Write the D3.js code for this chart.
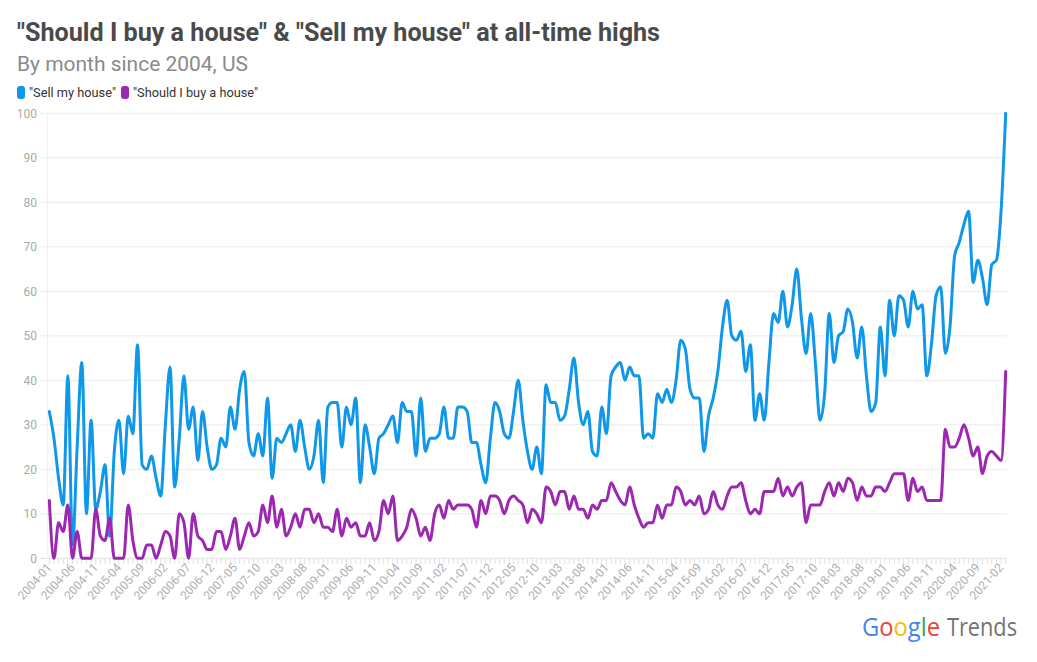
<!DOCTYPE html>
<html>
<head>
<meta charset="utf-8">
<script src="https://cdn.jsdelivr.net/npm/d3@7"></script>
<style>
  html, body { margin: 0; padding: 0; background: #fff; }
  svg { display: block; font-family: Roboto, "Noto Sans", sans-serif; }
</style>
</head>
<body>
<svg id="chart" width="1037" height="662"></svg>
<script>
// Monthly search interest, 2004-01 .. 2021-03
const sellMyHouse = [
  33, 27, 18, 12, 41, 3, 25, 44, 10, 31,
  11, 15, 21, 5, 24, 31, 19, 32, 28, 48,
  21, 20, 23, 18, 14, 30, 43, 16, 27, 41,
  29, 34, 22, 33, 25, 20, 21, 27, 25, 34,
  29, 38, 42, 26, 23, 28, 23, 36, 18, 27,
  26, 28, 30, 24, 31, 25, 20, 23, 31, 17,
  34, 35, 35, 25, 34, 30, 36, 17, 30, 25,
  19, 27, 28, 30, 32, 26, 35, 33, 33, 23,
  36, 24, 27, 27, 28, 34, 27, 27, 34, 34,
  33, 26, 26, 21, 17, 27, 35, 33, 28, 27,
  33, 40, 31, 24, 20, 25, 19, 39, 35, 35,
  31, 32, 38, 45, 35, 30, 33, 24, 23, 34,
  28, 41, 43, 44, 40, 43, 41, 41, 27, 28,
  27, 37, 35, 38, 35, 40, 49, 47, 38, 36,
  36, 24, 32, 36, 42, 52, 58, 50, 49, 51,
  42, 48, 31, 37, 31, 44, 55, 53, 60, 52,
  57, 65, 54, 46, 55, 44, 31, 37, 55, 44,
  50, 51, 56, 53, 45, 52, 41, 33, 35, 52,
  41, 58, 50, 59, 58, 52, 60, 56, 57, 41,
  48, 59, 61, 46, 52, 68, 71, 75, 78, 62,
  67, 63, 57, 66, 67, 78, 100
];

const shouldIBuy = [
  13, 0, 8, 6, 12, 0, 6, 0, 0, 0,
  11, 5, 4, 9, 0, 0, 0, 12, 4, 0,
  0, 3, 3, 0, 3, 6, 5, 0, 10, 8,
  0, 10, 5, 4, 2, 2, 6, 6, 2, 5,
  9, 2, 5, 8, 5, 6, 12, 8, 14, 7,
  11, 5, 7, 10, 7, 11, 11, 8, 10, 7,
  7, 6, 11, 5, 9, 7, 8, 5, 5, 8,
  4, 6, 13, 10, 14, 4, 5, 7, 11, 9,
  5, 7, 4, 10, 12, 9, 13, 11, 12, 12,
  12, 11, 7, 13, 10, 14, 14, 13, 10, 13,
  14, 13, 12, 8, 11, 10, 8, 16, 15, 12,
  15, 15, 11, 14, 11, 11, 9, 12, 11, 13,
  13, 17, 15, 13, 12, 16, 12, 9, 7, 8,
  8, 12, 9, 12, 12, 16, 15, 12, 13, 12,
  14, 10, 11, 15, 12, 11, 14, 16, 16, 17,
  13, 10, 11, 10, 15, 15, 15, 18, 14, 16,
  14, 16, 17, 8, 12, 12, 12, 15, 17, 14,
  17, 15, 18, 17, 13, 16, 14, 14, 16, 16,
  15, 17, 19, 19, 19, 13, 18, 15, 16, 13,
  13, 13, 13, 29, 25, 25, 27, 30, 27, 23,
  25, 19, 23, 24, 23, 22, 42
];

const tickLabels = [
  "2004-01", "2004-06", "2004-11", "2005-04", "2005-09", "2006-02", "2006-07",
  "2006-12", "2007-05", "2007-10", "2008-03", "2008-08", "2009-01", "2009-06",
  "2009-11", "2010-04", "2010-09", "2011-02", "2011-07", "2011-12", "2012-05",
  "2012-10", "2013-03", "2013-08", "2014-01", "2014-06", "2014-11", "2015-04",
  "2015-09", "2016-02", "2016-07", "2016-12", "2017-05", "2017-10", "2018-03",
  "2018-08", "2019-01", "2019-06", "2019-11", "2020-04", "2020-09", "2021-02"
];

const yTicks = [0, 10, 20, 30, 40, 50, 60, 70, 80, 90, 100];

const seriesNames = ['"Sell my house"', '"Should I buy a house"'];
const seriesColors = ["#0f97ea", "#9c27b0"];

// month keys: 2004-01 .. 2021-03
const months = sellMyHouse.map((d, i) => {
  const y = 2004 + Math.floor(i / 12);
  const m = (i % 12) + 1;
  return `${y}-${String(m).padStart(2, "0")}`;
});

const svg = d3.select("#chart");

const x = d3.scalePoint().domain(months).range([49.3, 1005.7]);
const y = d3.scaleLinear().domain([0, 100]).range([558.3, 113.3]);

// headings
svg.append("text")
  .attr("x", 17).attr("y", 41)
  .attr("font-size", 25).attr("font-weight", 700)
  .attr("fill", "#4a4a4a")
  .attr("textLength", 643).attr("lengthAdjust", "spacingAndGlyphs")
  .text('"Should I buy a house" & "Sell my house" at all-time highs');

svg.append("text")
  .attr("x", 17).attr("y", 71)
  .attr("font-size", 21)
  .attr("fill", "#8a8a8a")
  .attr("textLength", 231).attr("lengthAdjust", "spacingAndGlyphs")
  .text("By month since 2004, US");

// legend
const legendX = [17, 121];
const legendW = [87, 125];
const legend = svg.append("g");
seriesNames.forEach((name, i) => {
  legend.append("rect")
    .attr("x", legendX[i]).attr("y", 86)
    .attr("width", 8).attr("height", 13).attr("rx", 3)
    .attr("fill", seriesColors[i]);
  legend.append("text")
    .attr("x", legendX[i] + 12).attr("y", 97)
    .attr("font-size", 13).attr("fill", "#333")
    .attr("textLength", legendW[i]).attr("lengthAdjust", "spacingAndGlyphs")
    .text(name);
});

// grid + y labels
const grid = svg.append("g");
grid.selectAll("line")
  .data(yTicks)
  .enter().append("line")
  .attr("x1", 40).attr("x2", 1007)
  .attr("y1", d => y(d)).attr("y2", d => y(d))
  .attr("stroke", d => d === 0 ? "#e2e2e2" : "#ececec")
  .attr("stroke-width", 1);

grid.append("line")
  .attr("x1", 47.7).attr("x2", 47.7)
  .attr("y1", y(100)).attr("y2", y(0))
  .attr("stroke", "#eeeeee");

grid.selectAll("text")
  .data(yTicks)
  .enter().append("text")
  .attr("x", 37).attr("y", d => y(d))
  .attr("dy", "0.35em")
  .attr("text-anchor", "end")
  .attr("font-size", 12).attr("fill", "#aaaaaa")
  .text(d => d);

// x axis: monthly ticks, labels every 5 months
const xAxis = svg.append("g");
xAxis.selectAll("line")
  .data(months)
  .enter().append("line")
  .attr("x1", d => x(d)).attr("x2", d => x(d))
  .attr("y1", 559).attr("y2", 564)
  .attr("stroke", "#e0e0e0");

xAxis.selectAll("text")
  .data(tickLabels)
  .enter().append("text")
  .attr("transform", d => `translate(${x(d) + 3},${568}) rotate(-48)`)
  .attr("text-anchor", "end")
  .attr("font-size", 12).attr("fill", "#b0b0b0")
  .text(d => d);

// lines
const line = values => d3.line()
  .x((d, i) => x(months[i]))
  .y(d => y(d))
  .curve(d3.curveMonotoneX)(values);

[sellMyHouse, shouldIBuy].forEach((values, i) => {
  svg.append("path")
    .attr("d", line(values))
    .attr("fill", "none")
    .attr("stroke", seriesColors[i])
    .attr("stroke-width", 3)
    .attr("stroke-linejoin", "round")
    .attr("stroke-linecap", "round");
});

// Google Trends mark
const logoFont = "'Open Sans', Roboto, sans-serif";
const google = svg.append("text")
  .attr("x", 862).attr("y", 636)
  .attr("font-size", 25)
  .attr("font-family", logoFont)
  .attr("textLength", 78).attr("lengthAdjust", "spacingAndGlyphs");
const gColors = ["#4285F4", "#EA4335", "#FBBC05", "#4285F4", "#34A853", "#EA4335"];
"Google".split("").forEach((ch, i) => {
  google.append("tspan").attr("fill", gColors[i]).text(ch);
});
svg.append("text")
  .attr("x", 947).attr("y", 636)
  .attr("font-size", 25)
  .attr("font-family", logoFont)
  .attr("fill", "#737373")
  .attr("textLength", 70).attr("lengthAdjust", "spacingAndGlyphs")
  .text("Trends");
</script>
</body>
</html>
